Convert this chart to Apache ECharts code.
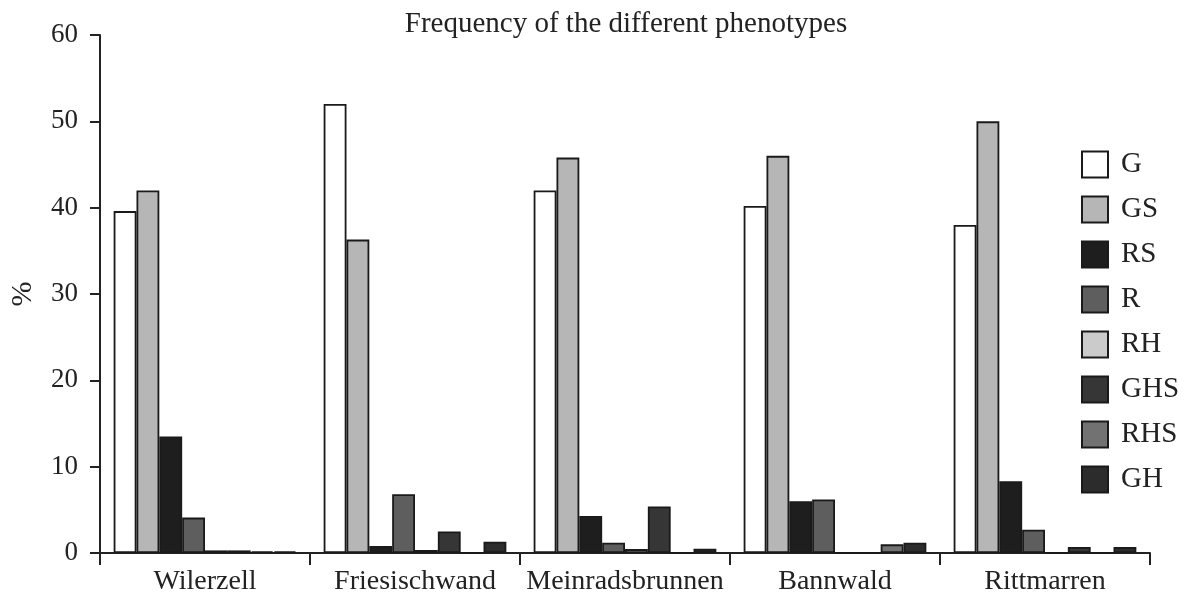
<!DOCTYPE html>
<html>
<head>
<meta charset="utf-8">
<script src="https://cdn.jsdelivr.net/npm/echarts@6/dist/echarts.min.js"></script>
<style>html,body{margin:0;padding:0;background:#fff}#c{width:1185px;height:597px}</style>
</head>
<body>
<div id="c"></div>
<script>
const categories = ['Wilerzell', 'Friesischwand', 'Meinradsbrunnen', 'Bannwald', 'Rittmarren'];
const seriesNames = ['G', 'GS', 'RS', 'R', 'RH', 'GHS', 'RHS', 'GH'];
const G   = [39.6, 52.0, 42.0, 40.2, 38.0];
const GS  = [42.0, 36.3, 45.8, 46.0, 50.0];
const RS  = [13.5, 0.8, 4.3, 6.0, 8.3];
const R   = [4.1, 6.8, 1.2, 6.2, 2.7];
const RH  = [0.3, 0.35, 0.45, 0, 0];
const GHS = [0.3, 2.5, 5.4, 0, 0.7];
const RHS = [0.2, 0, 0, 1.0, 0];
const GH  = [0.2, 1.3, 0.5, 1.2, 0.7];
const yTicks = [0, 10, 20, 30, 40, 50, 60];

const dataSets = [G, GS, RS, R, RH, GHS, RHS, GH];
const colors = ['#ffffff', '#b6b6b6', '#1e1e1e', '#5e5e5e', '#cbcbcb', '#363636', '#727272', '#2c2c2c'];
const font = '"Liberation Serif", "DejaVu Serif", serif';

const chart = echarts.init(document.getElementById('c'));
chart.setOption({
  animation: false,
  backgroundColor: '#fff',
  title: {
    text: 'Frequency of the different phenotypes',
    left: 621, top: 5, textAlign: 'center',
    textStyle: { fontFamily: font, fontSize: 29, fontWeight: 'normal', color: '#222' }
  },
  legend: {
    orient: 'vertical', left: 1081, top: 150, padding: 0,
    itemWidth: 26, itemHeight: 26, itemGap: 16,
    icon: 'rect',
    textStyle: { fontFamily: font, fontSize: 29, lineHeight: 26, color: '#222', padding: [0, 0, 0, 8] },
    data: seriesNames
  },
  grid: { left: 100, right: 35, top: 35, bottom: 44, containLabel: false, outerBoundsMode: 'none' },
  xAxis: {
    type: 'category', data: categories,
    axisLine: { lineStyle: { color: '#222', width: 2 } },
    axisTick: { show: true, length: 12, lineStyle: { color: '#222', width: 2 } },
    axisLabel: { interval: 0, fontFamily: font, fontSize: 28, color: '#222', margin: 15 }
  },
  yAxis: {
    type: 'value', min: 0, max: 60, interval: 10,
    name: '%', nameLocation: 'middle', nameGap: 62, nameRotate: 90,
    nameTextStyle: { fontFamily: font, fontSize: 30, color: '#222' },
    axisLine: { show: true, lineStyle: { color: '#222', width: 2 } },
    axisTick: { show: true, length: 10, lineStyle: { color: '#222', width: 2 } },
    axisLabel: { fontFamily: font, fontSize: 27, color: '#222', margin: 22,
      formatter: v => yTicks.includes(v) ? String(v) : '' },
    splitLine: { show: false }
  },
  series: dataSets.map((d, i) => ({
    name: seriesNames[i], type: 'bar', data: d,
    barGap: '0%', barCategoryGap: '13%',
    itemStyle: { color: colors[i], borderColor: '#1a1a1a', borderWidth: 1.8 }
  }))
});
</script>
</body>
</html>
